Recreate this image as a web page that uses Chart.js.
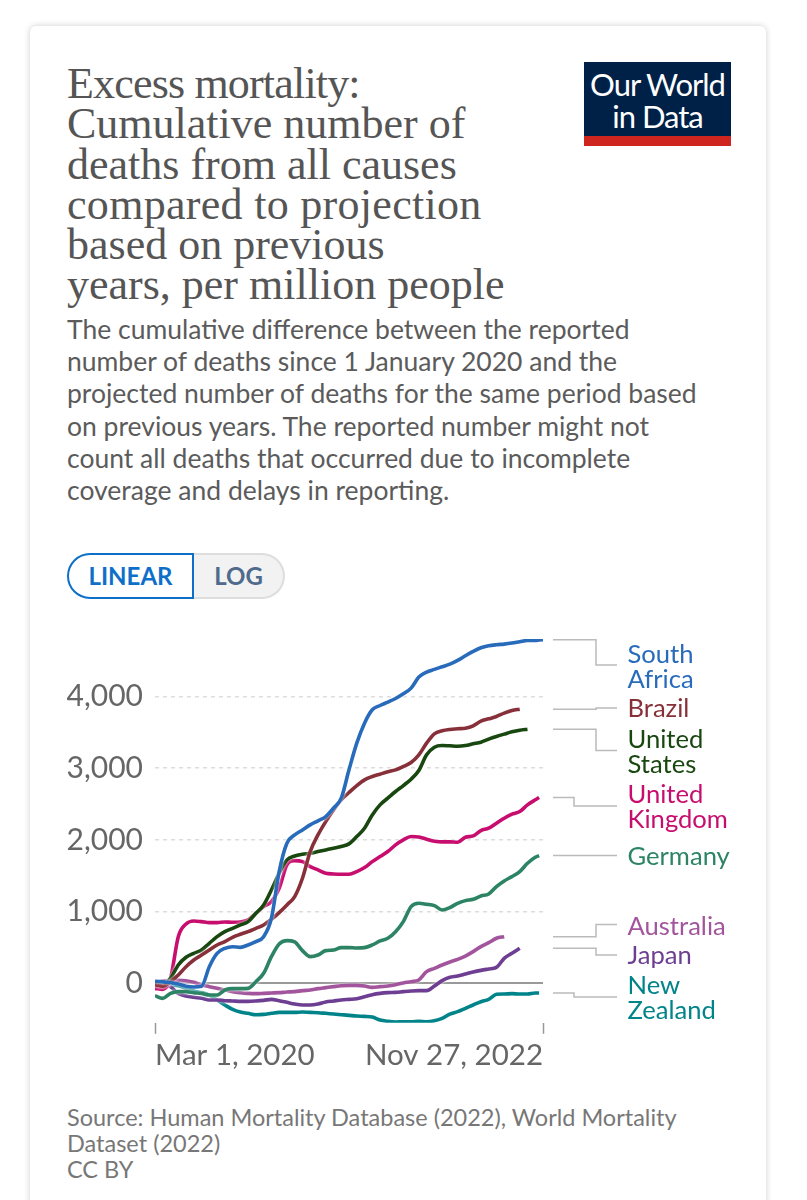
<!DOCTYPE html>
<html>
<head>
<meta charset="utf-8">
<script src="https://cdn.jsdelivr.net/npm/chart.js@4"></script>
<style>
html, body { margin: 0; background: #fff; }
body { position: relative; width: 807px; height: 1200px; overflow: hidden; font-family: Lato, sans-serif; }
#card { position: absolute; left: 30px; top: 26px; width: 736px; height: 1300px; background: #fff; border-radius: 6px; box-shadow: 0 0 6px rgba(0,0,0,0.2); }
#title { position: absolute; left: 67px; top: 64px; font: 44px/40.3px "Liberation Serif", serif; color: #555; white-space: nowrap; }
#subtitle { position: absolute; left: 67px; top: 313px; font-size: 26.5px; line-height: 32.2px; color: #5b5b5b; white-space: nowrap; }
#logo { position: absolute; left: 584px; top: 62px; width: 147px; height: 84px; background: #002147; border-bottom: 10px solid #ce261e; box-sizing: border-box; color: #fff; text-align: center; font-size: 31px; line-height: 32px; padding-top: 6px; letter-spacing: -1px; }
#toggle { position: absolute; left: 67px; top: 553px; height: 46px; width: 218px; }
#linear { position: absolute; left: 0; top: 0; width: 127px; height: 46px; box-sizing: border-box; border: 2px solid #0e6fc9; border-radius: 23px 0 0 23px; color: #0e6fc9; font-weight: 700; font-size: 24px; line-height: 42px; text-align: center; background: #fff; z-index: 1; }
#log { position: absolute; left: 127px; top: 0; width: 91px; height: 46px; box-sizing: border-box; border: 2px solid #ddd; border-left: none; border-radius: 0 23px 23px 0; background: #f2f2f2; color: #4e6a8c; font-weight: 700; font-size: 24px; line-height: 42px; text-align: center; }
#source { position: absolute; left: 67px; top: 1104px; font-size: 23.5px; line-height: 26px; color: #777; white-space: nowrap; }
#chart { position: absolute; left: 0; top: 620px; }
</style>
</head>
<body>
<div id="card"></div>
<div id="title"><span style="letter-spacing:-0.82px">Excess mortality:</span><br>Cumulative number of<br>deaths from all causes<br><span style="letter-spacing:0.3px">compared to projection</span><br>based on previous<br>years, per million people</div>
<div id="logo">Our World<br>in Data</div>
<div id="subtitle">The cumulative difference between the reported<br>number of deaths since 1 January 2020 and the<br>projected number of deaths for the same period based<br>on previous years. The reported number might not<br>count all deaths that occurred due to incomplete<br>coverage and delays in reporting.</div>
<div id="toggle"><div id="linear">LINEAR</div><div id="log">LOG</div></div>
<canvas id="chart" width="807" height="450"></canvas>
<div id="source">Source: Human Mortality Database (2022), World Mortality<br>Dataset (2022)<br>CC BY</div>
<script>
// days since 1 March 2020
const days = [0,20,40,60,80,100,120,140,160,180,200,220,240,260,280,300,320,340,360,380,400,420,440,460,480,500,520,540,560,580,600,620,640,660,680,700,720,740,760,780,800,820,840,860,880,900,920,940,960,980,990,1000];
const xTicks = [0, 1000];
const xTickLabels = ["Mar 1, 2020", "Nov 27, 2022"];
const yTicks = [0, 1000, 2000, 3000, 4000];

const southAfrica = [30,20,10,-10,-40,-50,-40,232,418,488,511,502,535,581,651,907,1558,1953,2069,2139,2209,2265,2325,2441,2581,2976,3348,3627,3813,3873,3920,3971,4036,4115,4269,4338,4376,4413,4450,4501,4566,4627,4678,4706,4720,4729,4743,4762,4780,4780,4785,4790];
const brazil = [-20,-40,23,116,232,325,395,465,535,581,642,684,721,767,814,893,986,1093,1209,1465,1837,2069,2255,2418,2558,2660,2757,2837,2883,2916,2948,2976,3023,3078,3185,3348,3478,3520,3539,3548,3557,3590,3655,3687,3720,3767,3804,3822];
const unitedStates = [-10,-30,70,256,363,419,465,558,651,721,767,814,860,977,1093,1302,1535,1721,1776,1800,1814,1837,1860,1883,1907,1944,2046,2162,2348,2488,2581,2674,2757,2846,2967,3185,3292,3315,3311,3306,3315,3339,3362,3404,3441,3474,3506,3529,3543];
const unitedKingdom = [-70,-84,70,651,828,870,860,846,846,856,851,856,884,977,1070,1139,1325,1651,1711,1697,1628,1581,1535,1525,1520,1520,1558,1614,1697,1767,1837,1930,2000,2046,2041,2009,1981,1972,1972,1967,2037,2055,2130,2162,2232,2302,2358,2395,2488,2558,2590];
const germany = [-172,-209,-140,-116,-116,-130,-140,-163,-163,-93,-74,-74,-70,23,140,372,549,595,577,456,372,395,456,465,498,498,493,498,535,591,628,720,860,1070,1116,1102,1083,1023,1056,1116,1153,1172,1218,1246,1349,1428,1488,1558,1674,1758,1781];
const australia = [9,33,42,42,37,14,-23,-46,-70,-93,-116,-130,-140,-144,-140,-135,-130,-121,-116,-102,-93,-74,-60,-46,-33,-28,-28,-37,-56,-46,-37,-19,5,23,47,163,209,256,298,335,381,442,512,567,628,651];
const japan = [23,0,-46,-140,-177,-195,-209,-232,-232,-242,-246,-251,-251,-246,-237,-223,-242,-265,-288,-302,-302,-288,-260,-246,-232,-223,-214,-186,-158,-140,-130,-126,-116,-107,-102,-102,-37,37,84,102,130,158,181,200,223,349,419,488];
const newZealand = [-23,-33,-23,-33,-70,-107,-130,-163,-232,-302,-363,-400,-418,-437,-432,-418,-405,-405,-405,-400,-405,-409,-418,-428,-437,-446,-456,-460,-470,-512,-530,-539,-535,-535,-530,-535,-521,-488,-428,-395,-349,-302,-256,-223,-153,-149,-144,-149,-149,-135,-135];

const colors = ["#286bbb", "#883039", "#18470f", "#c70e6e", "#2c8465", "#a2559c", "#6d3e91", "#00848a"];
const seriesValues = [southAfrica, brazil, unitedStates, unitedKingdom, germany, australia, japan, newZealand];
const seriesNames = ["South Africa", "Brazil", "United States", "United Kingdom", "Germany", "Australia", "Japan", "New Zealand"];

// labels on the right: text lines + y of each line, connector bend x and label y (in canvas coords)
const labelLines = [["South", "Africa"], ["Brazil"], ["United", "States"], ["United", "Kingdom"], ["Germany"], ["Australia"], ["Japan"], ["New", "Zealand"]];
const labelY = [34.5, 88.5, 119.5, 174.5, 236.5, 306.5, 335.5, 365.5];
const lineGap = 25.5;
const connectorEndY = [45, 88, 130.5, 186, 235.5, 304.5, 335, 377];
const connectorBendX = [596, 596, 596, 574, 596, 596, 596, 574];

const endLabels = {
    id: "endLabels",
    afterDraw(chart) {
        const ctx = chart.ctx;
        const y = chart.scales.y;
        ctx.save();
        seriesValues.forEach((values, i) => {
            const startY = y.getPixelForValue(values[values.length - 1]);
            const endY = connectorEndY[i];
            ctx.strokeStyle = "#bbb";
            ctx.lineWidth = 1.5;
            ctx.beginPath();
            ctx.moveTo(553, startY);
            ctx.lineTo(connectorBendX[i], startY);
            ctx.lineTo(connectorBendX[i], endY);
            ctx.lineTo(617, endY);
            ctx.stroke();
            ctx.fillStyle = colors[i];
            ctx.font = "25.6px Lato";
            ctx.textBaseline = "middle";
            labelLines[i].forEach((text, j) => {
                ctx.fillText(text, 627.5, labelY[i] + j * lineGap);
            });
        });
        ctx.restore();
    }
};

// thin white outline around each line, like the original
const halo = {
    id: "halo",
    beforeDatasetDraw(chart) {
        chart.ctx.save();
        chart.ctx.shadowColor = "#fff";
        chart.ctx.shadowBlur = 3;
    },
    afterDatasetDraw(chart) {
        chart.ctx.restore();
    }
};

new Chart(document.getElementById("chart").getContext("2d"), {
    type: "line",
    data: {
        datasets: seriesValues.map((values, i) => ({
            label: seriesNames[i],
            data: values.map((v, k) => ({ x: days[k], y: v })),
            borderColor: colors[i],
            borderWidth: 3.6,
            pointRadius: 0,
            cubicInterpolationMode: "monotone"
        }))
    },
    options: {
        responsive: false,
        animation: false,
        layout: { padding: { left: 67, right: 264, top: 19, bottom: 0 } },
        plugins: { legend: { display: false }, tooltip: { enabled: false } },
        scales: {
            x: {
                type: "linear",
                min: 0,
                max: 1000,
                afterBuildTicks: s => { s.ticks = xTicks.map(v => ({ value: v })); },
                afterFit: s => { s.height = 47.2; },
                border: { display: false },
                grid: { drawOnChartArea: false, tickLength: 11, tickColor: "#999", tickWidth: 1.5 },
                ticks: {
                    align: "inner",
                    maxRotation: 0,
                    padding: 4,
                    color: "#666",
                    font: { family: "Lato", size: 29.5 },
                    callback: v => xTickLabels[xTicks.indexOf(v)]
                }
            },
            y: {
                min: -550,
                max: 4800,
                afterBuildTicks: s => { s.ticks = yTicks.map(v => ({ value: v })); },
                afterFit: s => { s.width = 88; s.paddingTop = 0; s.paddingBottom = 0; },
                border: { display: false, dash: c => (c.tick && c.tick.value === 0 ? [] : [4, 4]) },
                grid: {
                    drawTicks: false,
                    lineWidth: c => (c.tick && c.tick.value === 0 ? 2 : 1.5),
                    color: c => (c.tick && c.tick.value === 0 ? "#999" : "#ddd")
                },
                ticks: {
                    padding: 12,
                    color: "#666",
                    font: { family: "Lato", size: 30 },
                    callback: v => v.toLocaleString("en-US")
                }
            }
        }
    },
    plugins: [halo, endLabels]
});
</script>
</body>
</html>
